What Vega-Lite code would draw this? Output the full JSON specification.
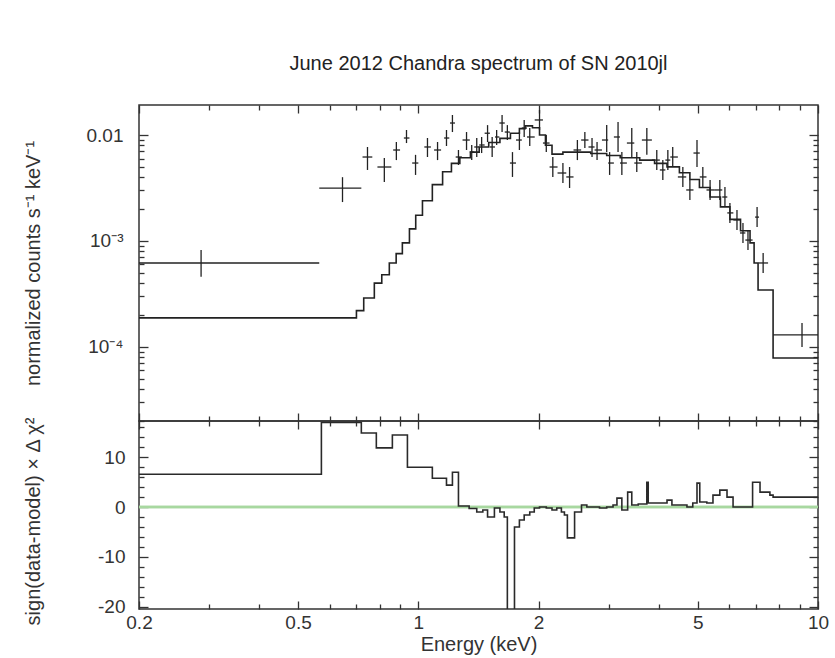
{
  "$schema": "https://vega.github.io/schema/vega-lite/v6.json",
  "background": "white",
  "padding": {"left": 22, "top": 53, "right": 5, "bottom": 0},
  "spacing": 0,
  "bounds": "flush",
  "config": {
    "font": "Liberation Sans",
    "view": {"stroke": "#333", "strokeWidth": 1.5},
    "axis": {"labelFont": "Liberation Sans", "labelFontSize": 19, "labelColor": "#333", "titleFont": "Liberation Sans", "titleFontSize": 20, "titleFontWeight": "normal", "titleColor": "#333", "domain": false, "grid": false, "tickColor": "#333", "tickWidth": 1.3, "labelOverlap": false, "labelFlush": false},
    "title": {"font": "Liberation Sans", "fontSize": 20, "fontWeight": "normal", "color": "#222"}
  },
  "datasets": {
    "model": [
      {"E": 0.2, "F": 0.000188}, {"E": 0.70, "F": 0.00022}, {"E": 0.73, "F": 0.00029}, {"E": 0.776, "F": 0.0004}, {"E": 0.81, "F": 0.00048}, {"E": 0.846, "F": 0.00062}, {"E": 0.88, "F": 0.00076}, {"E": 0.912, "F": 0.00096}, {"E": 0.95, "F": 0.0013}, {"E": 0.985, "F": 0.00175}, {"E": 1.024, "F": 0.0024}, {"E": 1.084, "F": 0.0034}, {"E": 1.15, "F": 0.0045}, {"E": 1.21, "F": 0.0054}, {"E": 1.27, "F": 0.0061}, {"E": 1.35, "F": 0.0069}, {"E": 1.42, "F": 0.0077}, {"E": 1.5, "F": 0.0085}, {"E": 1.6, "F": 0.0093}, {"E": 1.7, "F": 0.0104}, {"E": 1.79, "F": 0.0115}, {"E": 1.85, "F": 0.0122}, {"E": 1.93, "F": 0.0117}, {"E": 2.01, "F": 0.01}, {"E": 2.08, "F": 0.008}, {"E": 2.16, "F": 0.0066}, {"E": 2.3, "F": 0.0069}, {"E": 2.5, "F": 0.0069}, {"E": 2.7, "F": 0.0067}, {"E": 2.96, "F": 0.0064}, {"E": 3.2, "F": 0.0061}, {"E": 3.58, "F": 0.0058}, {"E": 3.9, "F": 0.0054}, {"E": 4.19, "F": 0.005}, {"E": 4.5, "F": 0.0044}, {"E": 4.78, "F": 0.0038}, {"E": 5.05, "F": 0.0032}, {"E": 5.37, "F": 0.0026}, {"E": 5.7, "F": 0.0021}, {"E": 6.02, "F": 0.0016}, {"E": 6.4, "F": 0.00125}, {"E": 6.76, "F": 0.00096}, {"E": 6.92, "F": 0.00062}, {"E": 7.08, "F": 0.000345}, {"E": 7.72, "F": 0.0000787}, {"E": 10.0, "F": 0.0000787}
    ],
    "pts": [
      {"E": 0.286, "Elo": 0.2, "Ehi": 0.565, "F": 0.00062, "Flo": 0.00046, "Fhi": 0.00082},
      {"E": 0.646, "Elo": 0.565, "Ehi": 0.72, "F": 0.00316, "Flo": 0.00233, "Fhi": 0.004},
      {"E": 0.746, "Elo": 0.725, "Ehi": 0.767, "F": 0.0062, "Flo": 0.00468, "Fhi": 0.00771},
      {"E": 0.822, "Elo": 0.79, "Ehi": 0.856, "F": 0.00499, "Flo": 0.0036, "Fhi": 0.00607},
      {"E": 0.881, "Elo": 0.865, "Ehi": 0.9, "F": 0.00722, "Flo": 0.0058, "Fhi": 0.00859},
      {"E": 0.934, "Elo": 0.92, "Ehi": 0.95, "F": 0.00937, "Flo": 0.0084, "Fhi": 0.01115},
      {"E": 0.984, "Elo": 0.965, "Ehi": 1.0, "F": 0.00544, "Flo": 0.0042, "Fhi": 0.0065},
      {"E": 1.054, "Elo": 1.035, "Ehi": 1.075, "F": 0.00771, "Flo": 0.0062, "Fhi": 0.00937},
      {"E": 1.117, "Elo": 1.095, "Ehi": 1.14, "F": 0.00722, "Flo": 0.0058, "Fhi": 0.00859},
      {"E": 1.176, "Elo": 1.16, "Ehi": 1.195, "F": 0.00937, "Flo": 0.00788, "Fhi": 0.01115},
      {"E": 1.217, "Elo": 1.2, "Ehi": 1.235, "F": 0.01298, "Flo": 0.01067, "Fhi": 0.01545},
      {"E": 1.26, "Elo": 1.24, "Ehi": 1.285, "F": 0.0062, "Flo": 0.00521, "Fhi": 0.00722},
      {"E": 1.32, "Elo": 1.29, "Ehi": 1.345, "F": 0.00897, "Flo": 0.00722, "Fhi": 0.01067},
      {"E": 1.36, "Elo": 1.345, "Ehi": 1.38, "F": 0.0069, "Flo": 0.0058, "Fhi": 0.00805},
      {"E": 1.4, "Elo": 1.38, "Ehi": 1.42, "F": 0.00771, "Flo": 0.0062, "Fhi": 0.00937},
      {"E": 1.44, "Elo": 1.42, "Ehi": 1.465, "F": 0.00805, "Flo": 0.00676, "Fhi": 0.00958},
      {"E": 1.49, "Elo": 1.465, "Ehi": 1.51, "F": 0.0104, "Flo": 0.00859, "Fhi": 0.0124},
      {"E": 1.53, "Elo": 1.51, "Ehi": 1.555, "F": 0.00771, "Flo": 0.0062, "Fhi": 0.00958},
      {"E": 1.57, "Elo": 1.555, "Ehi": 1.595, "F": 0.00958, "Flo": 0.00805, "Fhi": 0.01115},
      {"E": 1.62, "Elo": 1.595, "Ehi": 1.645, "F": 0.01298, "Flo": 0.01067, "Fhi": 0.01545},
      {"E": 1.67, "Elo": 1.645, "Ehi": 1.695, "F": 0.01067, "Flo": 0.00897, "Fhi": 0.0124},
      {"E": 1.72, "Elo": 1.695, "Ehi": 1.755, "F": 0.00544, "Flo": 0.00402, "Fhi": 0.0069},
      {"E": 1.79, "Elo": 1.755, "Ehi": 1.815, "F": 0.00897, "Flo": 0.00722, "Fhi": 0.01067},
      {"E": 1.84, "Elo": 1.815, "Ehi": 1.87, "F": 0.01164, "Flo": 0.00958, "Fhi": 0.01387},
      {"E": 1.9, "Elo": 1.87, "Ehi": 1.955, "F": 0.00958, "Flo": 0.00788, "Fhi": 0.01164},
      {"E": 2.01, "Elo": 1.955, "Ehi": 2.05, "F": 0.01387, "Flo": 0.01115, "Fhi": 0.01722},
      {"E": 2.09, "Elo": 2.05, "Ehi": 2.13, "F": 0.0084, "Flo": 0.0069, "Fhi": 0.01},
      {"E": 2.17, "Elo": 2.13, "Ehi": 2.23, "F": 0.00499, "Flo": 0.00402, "Fhi": 0.0062},
      {"E": 2.3, "Elo": 2.23, "Ehi": 2.345, "F": 0.00438, "Flo": 0.00352, "Fhi": 0.00544},
      {"E": 2.39, "Elo": 2.345, "Ehi": 2.445, "F": 0.00402, "Flo": 0.00316, "Fhi": 0.00499},
      {"E": 2.5, "Elo": 2.445, "Ehi": 2.555, "F": 0.00722, "Flo": 0.0058, "Fhi": 0.00897},
      {"E": 2.61, "Elo": 2.555, "Ehi": 2.665, "F": 0.00897, "Flo": 0.00754, "Fhi": 0.01067},
      {"E": 2.72, "Elo": 2.665, "Ehi": 2.76, "F": 0.00771, "Flo": 0.0062, "Fhi": 0.00937},
      {"E": 2.8, "Elo": 2.76, "Ehi": 2.88, "F": 0.00722, "Flo": 0.0058, "Fhi": 0.00859},
      {"E": 2.96, "Elo": 2.88, "Ehi": 2.985, "F": 0.00897, "Flo": 0.0069, "Fhi": 0.0124},
      {"E": 3.01, "Elo": 2.985, "Ehi": 3.085, "F": 0.00544, "Flo": 0.0042, "Fhi": 0.0069},
      {"E": 3.16, "Elo": 3.085, "Ehi": 3.195, "F": 0.00958, "Flo": 0.0069, "Fhi": 0.01327},
      {"E": 3.23, "Elo": 3.195, "Ehi": 3.325, "F": 0.00544, "Flo": 0.0042, "Fhi": 0.0069},
      {"E": 3.42, "Elo": 3.325, "Ehi": 3.47, "F": 0.0084, "Flo": 0.00607, "Fhi": 0.01164},
      {"E": 3.52, "Elo": 3.47, "Ehi": 3.625, "F": 0.00544, "Flo": 0.00448, "Fhi": 0.0069},
      {"E": 3.73, "Elo": 3.625, "Ehi": 3.84, "F": 0.00897, "Flo": 0.0065, "Fhi": 0.01164},
      {"E": 3.95, "Elo": 3.84, "Ehi": 4.02, "F": 0.0058, "Flo": 0.00468, "Fhi": 0.00722},
      {"E": 4.09, "Elo": 4.02, "Ehi": 4.15, "F": 0.00468, "Flo": 0.00376, "Fhi": 0.0058},
      {"E": 4.21, "Elo": 4.15, "Ehi": 4.27, "F": 0.0058, "Flo": 0.00468, "Fhi": 0.00722},
      {"E": 4.33, "Elo": 4.27, "Ehi": 4.46, "F": 0.0062, "Flo": 0.00499, "Fhi": 0.00771},
      {"E": 4.59, "Elo": 4.46, "Ehi": 4.68, "F": 0.00402, "Flo": 0.00323, "Fhi": 0.00499},
      {"E": 4.78, "Elo": 4.68, "Ehi": 4.88, "F": 0.00303, "Flo": 0.00244, "Fhi": 0.00376},
      {"E": 4.98, "Elo": 4.88, "Ehi": 5.06, "F": 0.00676, "Flo": 0.00499, "Fhi": 0.00897},
      {"E": 5.15, "Elo": 5.06, "Ehi": 5.26, "F": 0.00402, "Flo": 0.00316, "Fhi": 0.00499},
      {"E": 5.37, "Elo": 5.26, "Ehi": 5.52, "F": 0.00303, "Flo": 0.00244, "Fhi": 0.00376},
      {"E": 5.68, "Elo": 5.52, "Ehi": 5.76, "F": 0.00303, "Flo": 0.00244, "Fhi": 0.00376},
      {"E": 5.85, "Elo": 5.76, "Ehi": 5.93, "F": 0.0026, "Flo": 0.00209, "Fhi": 0.00323},
      {"E": 6.02, "Elo": 5.93, "Ehi": 6.14, "F": 0.00184, "Flo": 0.00148, "Fhi": 0.00228},
      {"E": 6.27, "Elo": 6.14, "Ehi": 6.38, "F": 0.00158, "Flo": 0.00127, "Fhi": 0.00196},
      {"E": 6.49, "Elo": 6.38, "Ehi": 6.58, "F": 0.00119, "Flo": 0.000957, "Fhi": 0.00148},
      {"E": 6.68, "Elo": 6.58, "Ehi": 6.86, "F": 0.00102, "Flo": 0.00082, "Fhi": 0.00127},
      {"E": 7.04, "Elo": 6.96, "Ehi": 7.12, "F": 0.00168, "Flo": 0.001355, "Fhi": 0.00209},
      {"E": 7.29, "Elo": 7.1, "Ehi": 7.5, "F": 0.00062, "Flo": 0.000499, "Fhi": 0.000771},
      {"E": 9.12, "Elo": 7.72, "Ehi": 10.0, "F": 0.00013, "Flo": 0.0001, "Fhi": 0.000168}
    ],
    "resid": [
      {"E": 0.2, "R": 6.6}, {"E": 0.572, "R": 17.0}, {"E": 0.72, "R": 14.9}, {"E": 0.785, "R": 11.9}, {"E": 0.861, "R": 14.5}, {"E": 0.939, "R": 8.0}, {"E": 1.084, "R": 5.8}, {"E": 1.176, "R": 4.4}, {"E": 1.217, "R": 7.0}, {"E": 1.26, "R": 0.2}, {"E": 1.34, "R": -0.3}, {"E": 1.4, "R": -1.0}, {"E": 1.45, "R": -0.6}, {"E": 1.49, "R": -2.0}, {"E": 1.55, "R": -0.2}, {"E": 1.6, "R": -1.0}, {"E": 1.64, "R": -2.0}, {"E": 1.67, "R": -25}, {"E": 1.74, "R": -4.0}, {"E": 1.79, "R": -2.6}, {"E": 1.84, "R": -1.6}, {"E": 1.9, "R": -1.0}, {"E": 1.95, "R": -0.2}, {"E": 2.01, "R": 0.0}, {"E": 2.09, "R": -0.2}, {"E": 2.16, "R": -0.6}, {"E": 2.22, "R": -0.2}, {"E": 2.28, "R": -1.0}, {"E": 2.32, "R": -1.6}, {"E": 2.36, "R": -6.2}, {"E": 2.46, "R": -1.0}, {"E": 2.56, "R": 0.4}, {"E": 2.64, "R": 0.0}, {"E": 2.84, "R": -0.2}, {"E": 2.96, "R": 0.0}, {"E": 3.07, "R": 0.4}, {"E": 3.14, "R": 1.8}, {"E": 3.23, "R": -0.6}, {"E": 3.34, "R": 3.0}, {"E": 3.42, "R": 0.4}, {"E": 3.55, "R": 0.6}, {"E": 3.73, "R": 5.0}, {"E": 3.76, "R": 0.8}, {"E": 4.02, "R": 0.8}, {"E": 4.19, "R": 1.4}, {"E": 4.31, "R": 0.4}, {"E": 4.51, "R": 0.4}, {"E": 4.7, "R": 0.0}, {"E": 4.86, "R": 0.8}, {"E": 4.98, "R": 4.8}, {"E": 5.06, "R": 1.0}, {"E": 5.27, "R": 0.8}, {"E": 5.46, "R": 2.4}, {"E": 5.68, "R": 3.4}, {"E": 5.92, "R": 2.0}, {"E": 6.13, "R": 0.0}, {"E": 6.86, "R": 5.0}, {"E": 7.16, "R": 3.0}, {"E": 7.58, "R": 2.4}, {"E": 7.72, "R": 2.0}, {"E": 10.0, "R": 2.0}
    ],
    "zero": [{"E": 0.2, "R": 0}, {"E": 10.0, "R": 0}]
  },
  "vconcat": [
    {
      "width": 679,
      "height": 316,
      "title": {"text": "June 2012 Chandra spectrum of SN 2010jl", "frame": "group", "anchor": "middle", "offset": 30},
      "layer": [
        {
          "data": {"name": "model"},
          "mark": {"type": "line", "interpolate": "step-after", "color": "#222", "strokeWidth": 1.6, "clip": true},
          "encoding": {
            "x": {"field": "E", "type": "quantitative", "scale": {"type": "log", "domain": [0.2, 10], "nice": false},
              "axis": {"orient": "bottom", "labels": false, "title": null, "ticks": true, "values": [0.2, 0.3, 0.4, 0.5, 0.6, 0.7, 0.8, 0.9, 1, 2, 3, 4, 5, 6, 7, 8, 9, 10],
                "tickSize": {"condition": {"test": "indexof([0.2,0.5,1,2,5,10], datum.value) >= 0", "value": -8}, "value": -5}}},
            "y": {"field": "F", "type": "quantitative", "scale": {"type": "log", "domain": [0.00002, 0.0192], "nice": false},
              "axis": {"orient": "left", "title": "normalized counts s⁻¹ keV⁻¹", "titleX": -96, "ticks": false,
                "values": [0.0001, 0.001, 0.01],
                "labelExpr": "datum.value > 0.0099 ? '0.01' : (datum.value > 0.00099 ? '10⁻³' : '10⁻⁴')",
                "labelPadding": 16}}
          }
        },
        {
          "data": {"name": "pts"},
          "mark": {"type": "rule", "color": "#222", "strokeWidth": 1.3},
          "encoding": {
            "x": {"field": "Elo", "type": "quantitative", "scale": {"type": "log", "domain": [0.2, 10], "nice": false},
              "axis": {"orient": "top", "labels": false, "title": null, "ticks": true, "values": [0.2, 0.3, 0.4, 0.5, 0.6, 0.7, 0.8, 0.9, 1, 2, 3, 4, 5, 6, 7, 8, 9, 10],
                "tickSize": {"condition": {"test": "indexof([0.2,0.5,1,2,5,10], datum.value) >= 0", "value": -8}, "value": -5}}},
            "x2": {"field": "Ehi"},
            "y": {"field": "F", "type": "quantitative", "scale": {"type": "log", "domain": [0.00002, 0.0192], "nice": false},
              "axis": {"orient": "right", "labels": false, "title": null, "ticks": true,
                "values": [0.00002, 0.00003, 0.00004, 0.00005, 0.00006, 0.00007, 0.00008, 0.00009, 0.0001, 0.0002, 0.0003, 0.0004, 0.0005, 0.0006, 0.0007, 0.0008, 0.0009, 0.001, 0.002, 0.003, 0.004, 0.005, 0.006, 0.007, 0.008, 0.009, 0.01],
                "tickSize": {"condition": {"test": "abs(log(datum.value)/LN10 - round(log(datum.value)/LN10)) < 0.01", "value": -9}, "value": -5}}}
          }
        },
        {
          "data": {"name": "pts"},
          "mark": {"type": "rule", "color": "#222", "strokeWidth": 1.3},
          "encoding": {
            "x": {"field": "E", "type": "quantitative", "scale": {"type": "log", "domain": [0.2, 10], "nice": false}, "axis": null},
            "y": {"field": "Flo", "type": "quantitative", "scale": {"type": "log", "domain": [0.00002, 0.0192], "nice": false},
              "axis": {"orient": "left", "labels": false, "title": null, "ticks": true,
                "values": [0.00002, 0.00003, 0.00004, 0.00005, 0.00006, 0.00007, 0.00008, 0.00009, 0.0001, 0.0002, 0.0003, 0.0004, 0.0005, 0.0006, 0.0007, 0.0008, 0.0009, 0.001, 0.002, 0.003, 0.004, 0.005, 0.006, 0.007, 0.008, 0.009, 0.01],
                "tickSize": {"condition": {"test": "abs(log(datum.value)/LN10 - round(log(datum.value)/LN10)) < 0.01", "value": -9}, "value": -5}}},
            "y2": {"field": "Fhi"}
          }
        }
      ],
      "resolve": {"axis": {"x": "independent", "y": "independent"}}
    },
    {
      "width": 679,
      "height": 188,
      "layer": [
        {
          "data": {"name": "zero"},
          "mark": {"type": "line", "color": "#a8d8a0", "strokeWidth": 2.5},
          "encoding": {
            "x": {"field": "E", "type": "quantitative", "scale": {"type": "log", "domain": [0.2, 10], "nice": false},
              "axis": {"orient": "top", "labels": false, "title": null, "ticks": true, "values": [0.2, 0.3, 0.4, 0.5, 0.6, 0.7, 0.8, 0.9, 1, 2, 3, 4, 5, 6, 7, 8, 9, 10],
                "tickSize": {"condition": {"test": "indexof([0.2,0.5,1,2,5,10], datum.value) >= 0", "value": -8}, "value": -5}}},
            "y": {"field": "R", "type": "quantitative", "scale": {"domain": [-20.5, 17.3], "nice": false, "zero": false},
              "axis": {"orient": "right", "labels": false, "title": null, "ticks": true, "values": [-20, -18, -16, -14, -12, -10, -8, -6, -4, -2, 0, 2, 4, 6, 8, 10, 12, 14, 16],
                "tickSize": {"condition": {"test": "datum.value % 10 === 0", "value": -9}, "value": -5}}}
          }
        },
        {
          "data": {"name": "zero"},
          "mark": {"type": "line", "color": "#a8d8a0", "strokeWidth": 2.5},
          "encoding": {
            "x": {"field": "E", "type": "quantitative", "scale": {"type": "log", "domain": [0.2, 10], "nice": false},
              "axis": {"orient": "bottom", "labels": false, "title": null, "ticks": true, "values": [0.2, 0.3, 0.4, 0.5, 0.6, 0.7, 0.8, 0.9, 1, 2, 3, 4, 5, 6, 7, 8, 9, 10],
                "tickSize": {"condition": {"test": "indexof([0.2,0.5,1,2,5,10], datum.value) >= 0", "value": -8}, "value": -5}}},
            "y": {"field": "R", "type": "quantitative", "scale": {"domain": [-20.5, 17.3], "nice": false, "zero": false},
              "axis": {"orient": "left", "labels": false, "title": null, "ticks": true, "values": [-20, -18, -16, -14, -12, -10, -8, -6, -4, -2, 0, 2, 4, 6, 8, 10, 12, 14, 16],
                "tickSize": {"condition": {"test": "datum.value % 10 === 0", "value": -9}, "value": -5}}}
          }
        },
        {
          "data": {"name": "resid"},
          "mark": {"type": "line", "interpolate": "step-after", "color": "#2a2a2a", "strokeWidth": 1.6, "clip": true},
          "encoding": {
            "x": {"field": "E", "type": "quantitative", "scale": {"type": "log", "domain": [0.2, 10], "nice": false},
              "axis": {"orient": "bottom", "title": "Energy (keV)", "values": [0.2, 0.5, 1, 2, 5, 10], "ticks": false,
                "labelExpr": "'' + datum.value",
                "labelPadding": 4, "titlePadding": 2}},
            "y": {"field": "R", "type": "quantitative", "scale": {"domain": [-20.5, 17.3], "nice": false, "zero": false},
              "axis": {"orient": "left", "title": "sign(data-model) × Δ χ²", "titleX": -96, "titleY": 100, "ticks": false,
                "values": [-20, -10, 0, 10],
                "labelExpr": "'' + datum.value",
                "labelPadding": 14}}
          }
        }
      ],
      "resolve": {"axis": {"x": "independent", "y": "independent"}}
    }
  ]
}
